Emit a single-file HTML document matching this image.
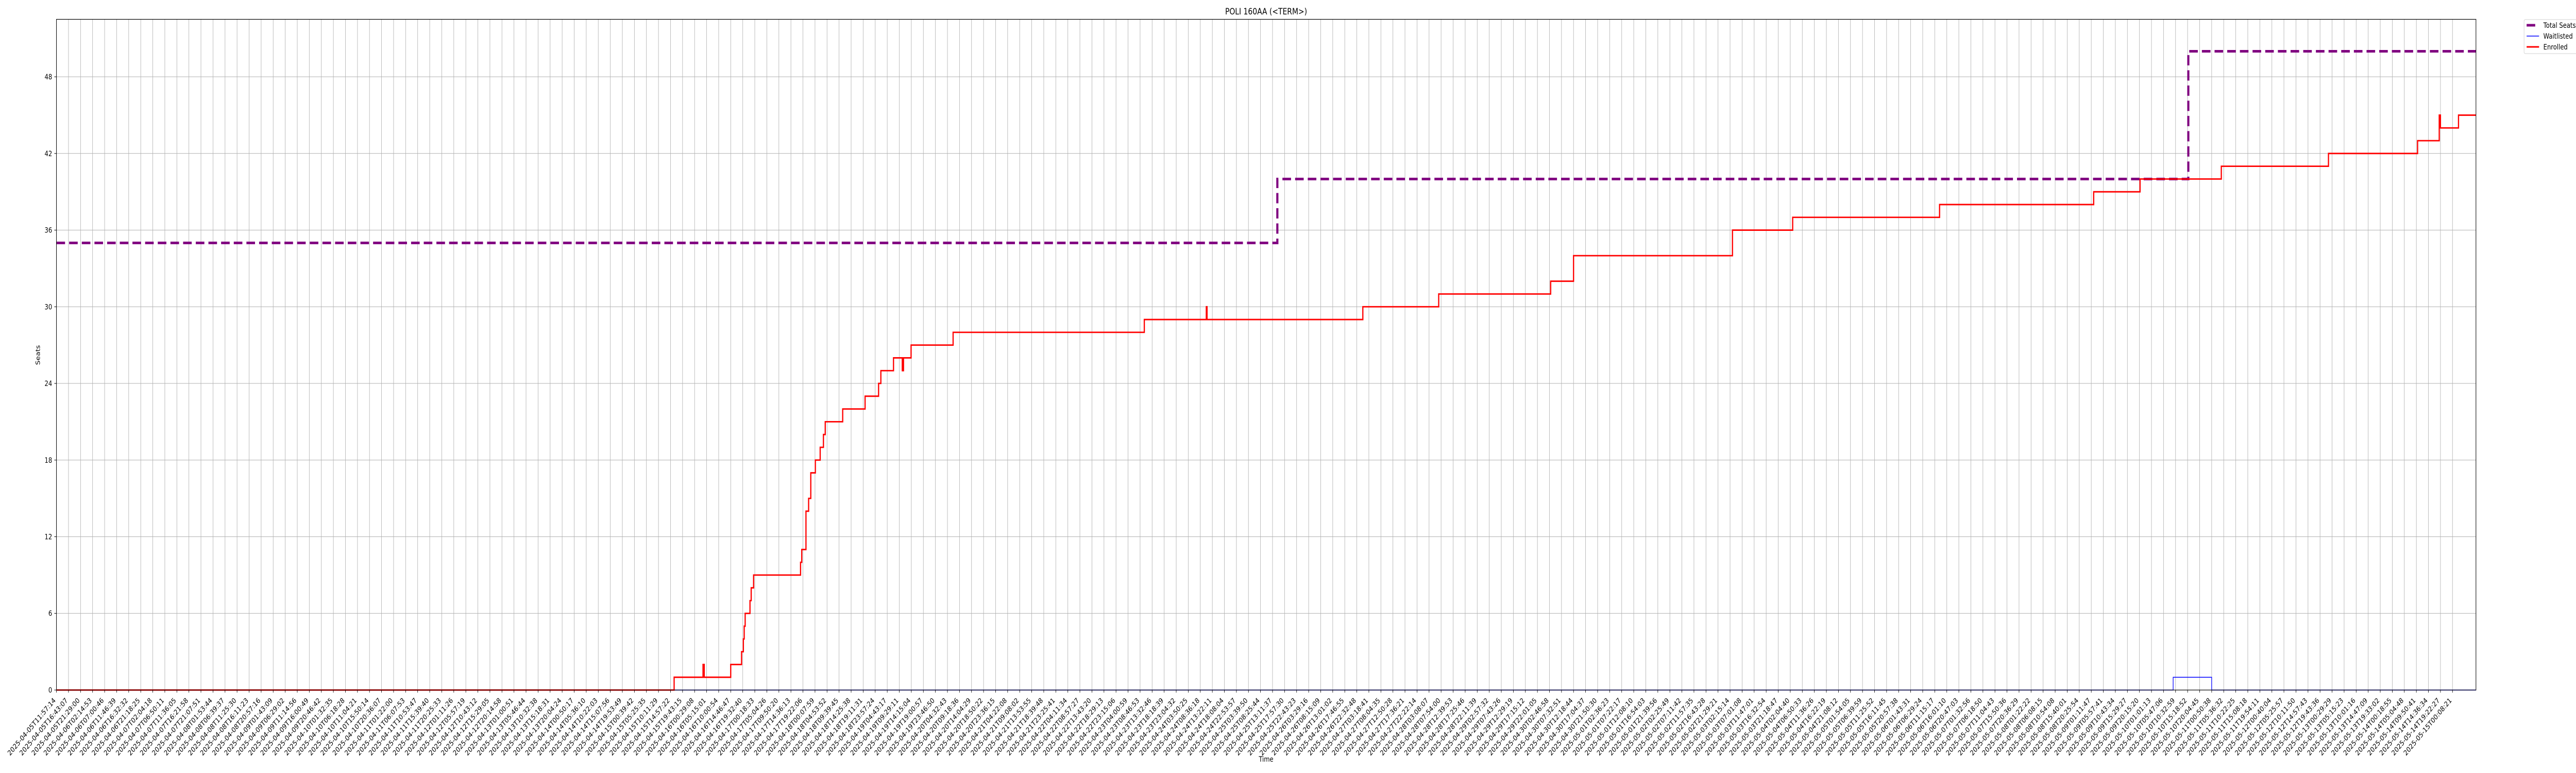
<!DOCTYPE html>
<html><head><meta charset="utf-8">
<style>
html,body{margin:0;padding:0;background:#fff;width:100%;height:100%;overflow:hidden;}
svg{display:block;width:100vw;height:100vh;font-family:"DejaVu Sans","Liberation Sans",sans-serif;overflow:hidden;}
</style></head>
<body>
<svg id="chart" viewBox="0 0 6000 1500" preserveAspectRatio="none" xmlns="http://www.w3.org/2000/svg">
<defs><clipPath id="pageclip"><rect x="0" y="0" width="6000" height="1500"/></clipPath></defs>
<g clip-path="url(#pageclip)">
<rect x="0" y="0" width="6000" height="1500" fill="#fff"/>
<g id="grid"></g>
<g id="series"></g>
<g id="axes"></g>
<text x="2949" y="28" font-size="16.7" text-anchor="middle">POLI 160AA (&lt;TERM&gt;)</text>
<text x="2949" y="1478" font-size="13.9" text-anchor="middle">Time</text>
<text x="93" y="689" font-size="13.9" text-anchor="middle" transform="rotate(-90 93 689)">Seats</text>
<g>
  <rect x="5879" y="38" width="140" height="66" fill="#fff" stroke="#d0d0d0" stroke-width="1" rx="3"/>
  <g>
    <line x1="5885" y1="49" x2="5905" y2="49" stroke="#800080" stroke-width="5"/>
    <text x="5924" y="54" font-size="13.9">Total Seats</text>
  </g>
  <g>
    <line x1="5885" y1="70" x2="5914" y2="70" stroke="#0000ff" stroke-width="1.5"/>
    <text x="5924" y="75" font-size="13.9">Waitlisted</text>
  </g>
  <g>
    <line x1="5885" y1="91" x2="5914" y2="91" stroke="#ff0000" stroke-width="3"/>
    <text x="5924" y="96" font-size="13.9">Enrolled</text>
  </g>
</g>
</g>
</svg>
<script>
// ---- data (x in tick-index units) ----
const enrolledT = [0, 51.3, 53.7, 53.8, 56.0, 56.9, 57.05, 57.12, 57.2, 57.6, 57.7, 57.9, 61.8, 61.9, 62.25, 62.47, 62.65, 63.03, 63.43, 63.7, 63.85, 65.3, 67.16, 68.28, 68.47, 69.52, 70.25, 70.35, 70.98, 74.47, 90.35, 95.5, 95.56, 108.5, 114.8, 124.1, 126.0, 139.2, 144.2, 156.4, 169.2, 173.05, 179.8, 188.7, 196.1, 197.9, 198.0, 199.5];
const enrolledV = [0, 1, 2, 1, 2, 3, 4, 5, 6, 7, 8, 9, 10, 11, 14, 15, 17, 18, 19, 20, 21, 22, 23, 24, 25, 26, 25, 26, 27, 28, 29, 30, 29, 30, 31, 32, 34, 36, 37, 38, 39, 40, 41, 42, 43, 45, 44, 45];
const seatsT = [0, 101.4, 177.06];
const seatsV = [35, 40, 50];
const waitT = [0, 175.8, 179.0];
const waitV = [0, 1, 0];
const yTicks = [0, 6, 12, 18, 24, 30, 36, 42, 48];
const tickStart = "2025-04-05T11:57:14";
const tickEnd = "2025-05-15T00:08:21";
const tickCount = 200;

// ---- axes ----
const L = 131.5, R = 5767, T = 37.5, B = 1339;
const XMAX = 200.95, YMAX = 52.5;
const xs = t => L + t / XMAX * (R - L);
const ys = v => B - v / YMAX * (B - T);
const NS = "http://www.w3.org/2000/svg";
function mk(tag, attrs, parent) {
  const e = document.createElementNS(NS, tag);
  for (const k in attrs) e.setAttribute(k, attrs[k]);
  parent.appendChild(e);
  return e;
}
const grid = document.getElementById('grid');
const axes = document.getElementById('axes');
const series = document.getElementById('series');

function fmt(d) {
  const p = n => String(n).padStart(2, '0');
  return d.getUTCFullYear() + '-' + p(d.getUTCMonth() + 1) + '-' + p(d.getUTCDate()) + 'T' + p(d.getUTCHours()) + ':' + p(d.getUTCMinutes()) + ':' + p(d.getUTCSeconds());
}
const t0 = Date.parse(tickStart + 'Z'), t1 = Date.parse(tickEnd + 'Z');
const tickLabels = [];
for (let i = 0; i < tickCount; i++) tickLabels.push(fmt(new Date(t0 + (t1 - t0) * i / (tickCount - 1))));

tickLabels.forEach((lab, i) => {
  const x = xs(i);
  const g = mk('line', {x1: x, y1: T, x2: x, y2: B, stroke: '#b0b0b0', 'stroke-width': 1}, grid);
  
  
  const tk = mk('line', {x1: x, y1: B, x2: x, y2: B + 5, stroke: '#000', 'stroke-width': 1}, axes);
  
  
  const ex = x - 1, ey = 1360;
  const tx = mk('text', {x: ex, y: ey, 'font-size': 13.9, 'text-anchor': 'end', transform: 'rotate(-45 ' + ex + ' ' + ey + ')'}, axes);
  
  
  tx.textContent = lab;
});
yTicks.forEach(v => {
  const y = ys(v);
  const g = mk('line', {x1: L, y1: y, x2: R, y2: y, stroke: '#b0b0b0', 'stroke-width': 1}, grid);
  
  
  const tk = mk('line', {x1: L - 5, y1: y, x2: L, y2: y, stroke: '#000', 'stroke-width': 1}, axes);
  
  
  const tx = mk('text', {x: L - 10, y: y + 5, 'font-size': 13.9, 'text-anchor': 'end'}, axes);
  
  
  tx.textContent = v;
});
const frame = mk('rect', {x: L, y: T, width: R - L, height: B - T, fill: 'none', stroke: '#000', 'stroke-width': 1.2}, axes);



function stepPath(ts, vs) {
  let d = 'M' + xs(ts[0]) + ' ' + ys(vs[0]);
  for (let i = 1; i < ts.length; i++) {
    d += ' H' + xs(ts[i]) + ' V' + ys(vs[i]);
  }
  d += ' H' + xs(XMAX);
  return d;
}
const ps = mk('path', {d: stepPath(seatsT, seatsV), fill: 'none', stroke: '#800080', 'stroke-width': 5, 'stroke-dasharray': '20 9.5'}, series);


const pw = mk('path', {d: stepPath(waitT, waitV), fill: 'none', stroke: '#0000ff', 'stroke-width': 1.5}, series);


const pe = mk('path', {d: stepPath(enrolledT, enrolledV), fill: 'none', stroke: '#ff0000', 'stroke-width': 2.8}, series);


</script>
</body></html>
